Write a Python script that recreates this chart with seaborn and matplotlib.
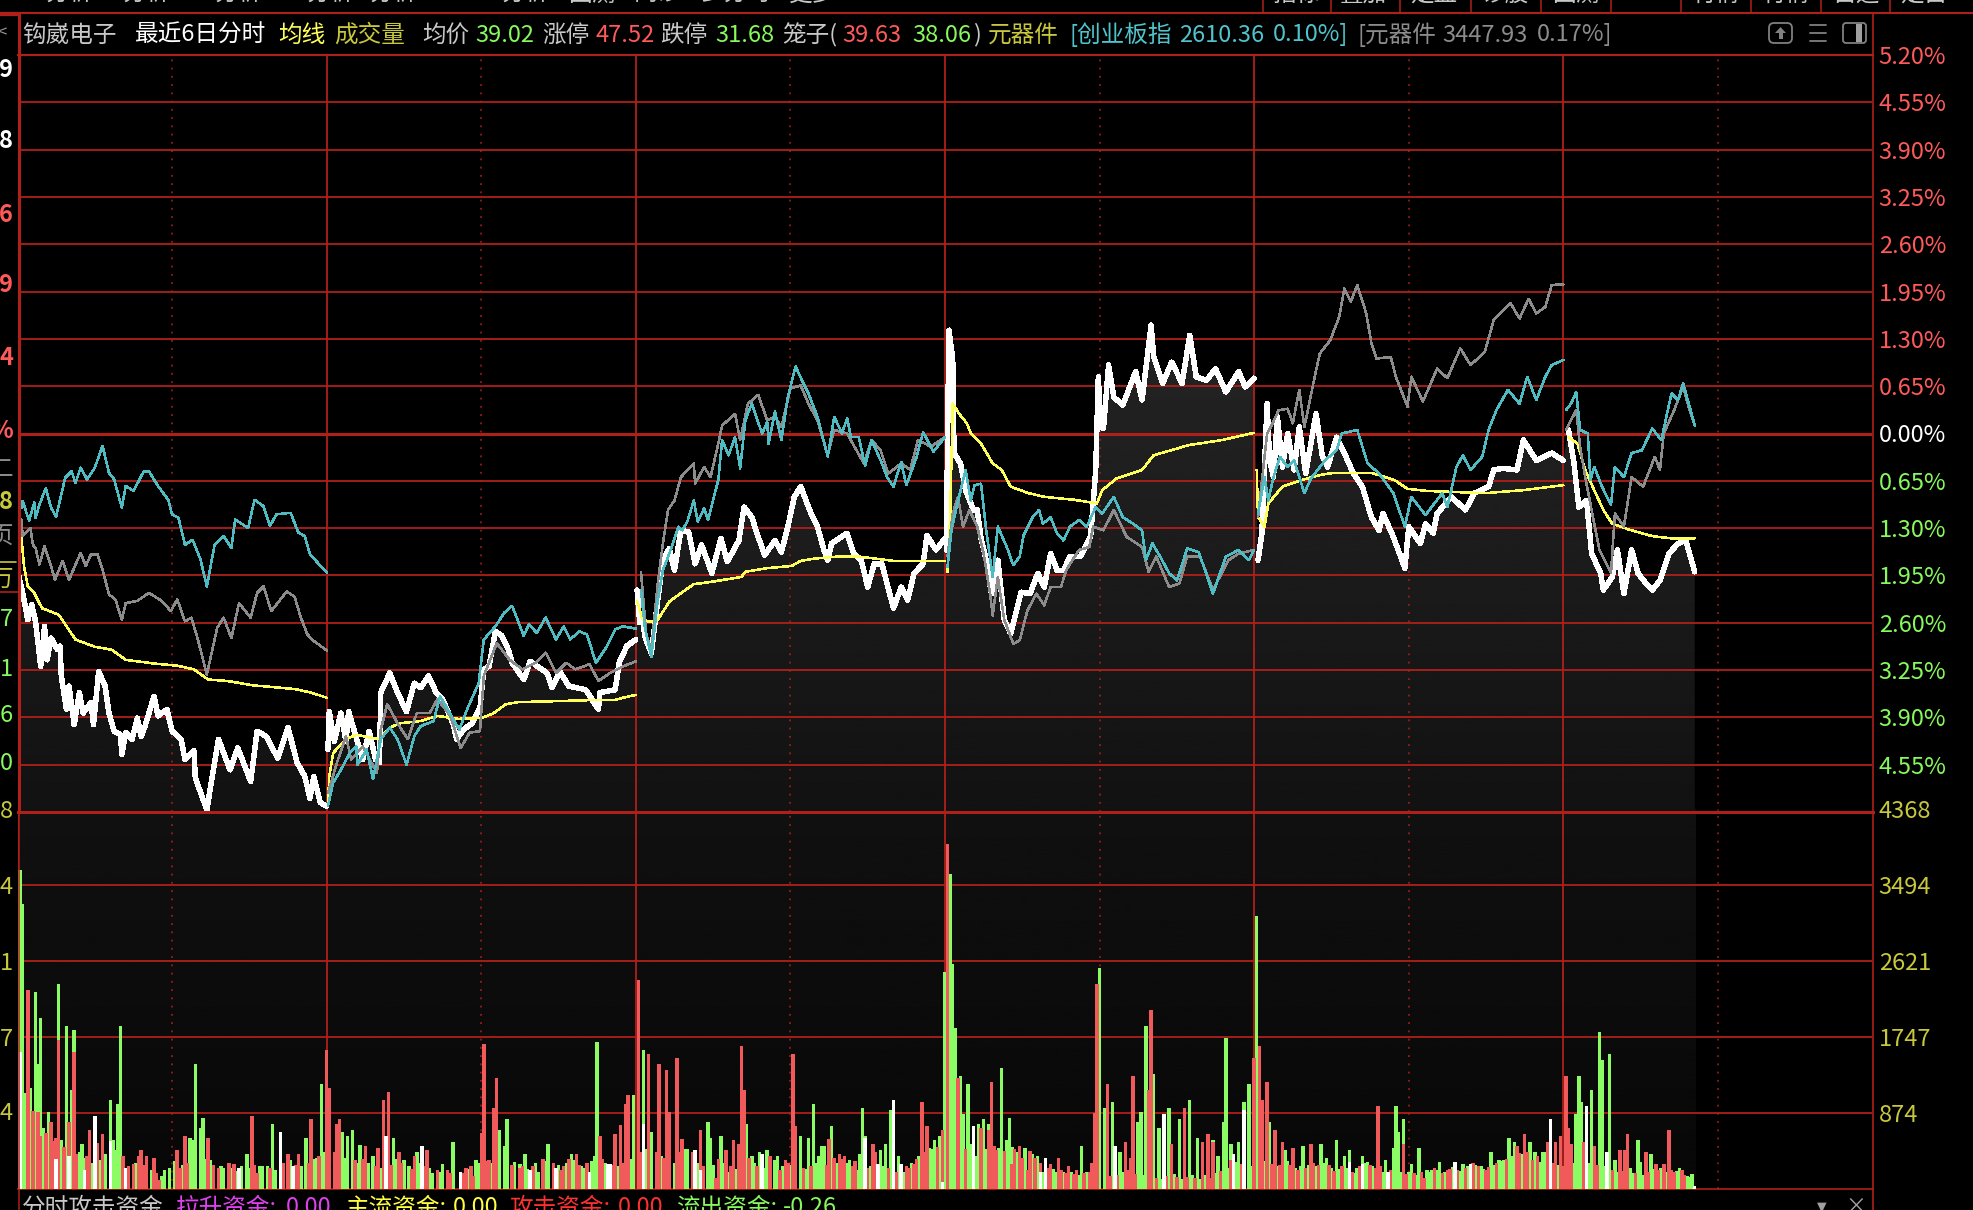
import numpy as np
import pandas as pd
import seaborn as sns
import matplotlib.pyplot as plt
from matplotlib.patches import FancyBboxPatch, Rectangle, Polygon

# minute index over the six sessions (240 minutes per session), values in percent
white_min = [1,4,8,11,14,18,21,23,26,31,33,34,38,40,44,48,51,57,59,63,68,71,75,80,81,84,89,93,96,99,106,109,116,120,127,130,137,138,147,152,156,165,171,181,186,193,202,210,217,223,227,230,235,240,
             241,242,246,251,255,257,263,268,273,278,281,282,289,295,302,308,313,319,325,330,338,341,346,353,359,362,366,371,376,381,384,393,398,411,415,421,428,441,451,452,464,467,473,480,
             481,483,485,487,492,497,501,506,510,515,521,526,531,539,546,551,560,564,570,575,580,588,593,598,603,608,616,621,626,629,632,644,649,655,660,665,671,680,686,691,696,703,706,713,720,
             721,723,726,727,732,736,742,745,748,752,756,761,766,771,779,786,792,797,802,807,812,817,825,833,837,839,841,843,847,851,858,868,873,880,882,889,896,904,910,915,923,930,938,948,953,960,
             963,966,970,972,975,978,982,986,991,995,1000,1008,1013,1017,1024,1029,1037,1044,1051,1057,1060,1068,1077,1080,1089,1093,1099,1102,1113,1124,1131,1142,1146,1153,1164,1169,1179,1191,1200,
             1204,1208,1212,1218,1222,1229,1231,1238,1242,1247,1253,1258,1265,1269,1275,1282,1289,1295,1298,1302]
white_pct = [-1.96,-2.19,-2.56,-2.35,-2.58,-3.20,-2.65,-3.11,-2.81,-2.97,-2.92,-3.33,-3.79,-3.47,-4.00,-3.56,-3.84,-3.70,-4.00,-3.27,-3.47,-3.84,-4.09,-4.14,-4.41,-4.11,-4.20,-3.91,-4.16,-4.02,-3.61,-3.88,-3.79,-4.09,-4.20,-4.48,-4.36,-4.73,-5.17,-4.62,-4.20,-4.62,-4.32,-4.78,-4.09,-4.16,-4.46,-4.04,-4.52,-4.71,-5.01,-4.71,-5.07,-5.12,
             -4.34,-3.82,-4.23,-3.84,-4.23,-3.82,-4.18,-4.48,-4.09,-4.48,-4.52,-3.56,-3.29,-3.56,-3.82,-3.43,-3.49,-3.33,-3.56,-3.65,-3.98,-4.20,-4.07,-3.98,-3.77,-3.24,-3.20,-2.72,-2.78,-2.97,-3.15,-3.38,-3.13,-3.29,-3.49,-3.27,-3.47,-3.52,-3.79,-3.56,-3.52,-3.15,-2.92,-2.83,
             -2.15,-2.60,-2.47,-2.79,-3.02,-2.29,-1.74,-1.58,-1.88,-1.33,-1.35,-1.79,-1.53,-1.92,-1.44,-1.76,-1.47,-1.01,-1.15,-1.42,-1.67,-1.47,-1.63,-1.28,-0.87,-0.73,-1.10,-1.28,-1.60,-1.74,-1.51,-1.37,-1.65,-1.74,-2.11,-1.79,-1.79,-2.40,-2.11,-2.29,-1.92,-1.79,-1.40,-1.60,-1.44,
             -1.60,1.42,1.03,-0.27,-0.41,-0.78,-1.05,-1.05,-1.44,-1.74,-2.20,-1.74,-2.56,-2.75,-2.18,-2.20,-1.92,-2.11,-1.65,-1.88,-1.88,-1.69,-1.69,-1.42,-0.50,0.78,0.09,0.07,0.94,0.50,0.39,0.85,0.46,1.49,1.05,0.69,0.98,0.69,1.35,0.78,0.73,0.89,0.57,0.85,0.64,0.76,
             -1.74,-1.37,0.41,-0.37,-0.60,0.23,-0.46,0.00,-0.50,0.09,-0.55,0.27,-0.32,-0.46,-0.05,-0.23,-0.55,-0.73,-1.15,-1.33,-1.10,-1.42,-1.85,-1.28,-1.51,-1.24,-1.37,-1.10,-0.87,-1.05,-0.82,-0.73,-0.50,-0.48,-0.50,-0.09,-0.37,-0.27,-0.37,
             0.05,-0.37,-1.01,-0.92,-1.65,-1.92,-2.15,-1.97,-1.60,-2.20,-1.60,-1.92,-2.08,-2.15,-2.02,-1.65,-1.51,-1.47,-1.65,-1.90]

cyan_min = [3,4,9,13,14,17,22,26,30,37,42,45,49,54,60,66,71,75,81,84,90,98,102,109,117,120,125,130,136,142,147,153,160,166,169,179,184,191,196,201,212,218,223,227,240,
            241,245,251,258,263,264,271,276,282,289,295,302,308,313,323,328,334,343,349,358,362,371,378,384,393,397,403,410,418,424,429,436,442,449,457,464,470,480,
            484,487,492,497,501,506,513,516,520,525,528,533,536,544,547,552,557,561,565,570,578,582,583,588,593,598,604,609,614,621,629,634,640,644,647,653,658,663,671,675,680,686,690,698,703,711,720,
            722,725,729,736,740,743,748,752,757,761,768,773,778,781,788,793,796,802,807,812,817,824,830,837,842,851,858,866,873,876,881,887,894,900,908,917,928,938,948,956,960,
            963,968,971,975,980,986,991,999,1004,1015,1024,1028,1040,1048,1057,1068,1077,1082,1093,1106,1110,1117,1122,1128,1137,1142,1148,1157,1166,1172,1179,1186,1191,1200,
            1202,1206,1210,1213,1219,1221,1224,1230,1237,1240,1247,1253,1261,1269,1276,1284,1289,1293,1298,1302]
cyan_pct = [-1.02,-0.93,-1.20,-0.95,-1.16,-0.98,-0.75,-1.02,-1.14,-0.61,-0.52,-0.68,-0.47,-0.63,-0.47,-0.17,-0.54,-0.63,-1.02,-0.72,-0.79,-0.52,-0.52,-0.72,-0.91,-1.11,-1.16,-1.53,-1.46,-1.73,-2.10,-1.53,-1.41,-1.57,-1.18,-1.30,-0.91,-1.00,-1.27,-1.11,-1.09,-1.36,-1.41,-1.66,-1.91,
            -5.12,-4.80,-4.62,-4.39,-4.30,-4.55,-4.34,-4.75,-4.20,-4.04,-4.20,-4.55,-4.16,-4.02,-3.95,-3.61,-3.79,-4.07,-3.79,-3.43,-2.83,-2.65,-2.46,-2.37,-2.78,-2.62,-2.74,-2.53,-2.83,-2.65,-2.83,-2.72,-2.76,-3.15,-2.94,-2.69,-2.65,-2.68,
            -2.15,-2.66,-3.07,-2.29,-1.88,-1.65,-1.28,-1.33,-1.21,-0.92,-1.21,-1.03,-1.19,-0.64,-0.09,-0.30,-0.05,-0.48,0.18,0.41,0.00,0.16,-0.14,0.30,-0.09,0.50,0.92,0.73,0.55,0.23,-0.32,0.23,0.00,0.21,-0.05,-0.05,-0.44,-0.09,-0.41,-0.60,-0.73,-0.39,-0.71,-0.32,0.02,-0.25,-0.05,
            -1.83,-1.33,-1.01,-0.50,-0.92,-0.71,-0.69,-1.33,-1.97,-1.28,-1.56,-1.81,-1.69,-1.40,-1.15,-1.05,-1.24,-1.15,-1.37,-1.47,-1.28,-1.19,-1.28,-1.01,-1.10,-0.87,-1.15,-1.24,-1.33,-1.74,-1.51,-1.69,-1.92,-2.02,-1.58,-1.63,-2.20,-1.69,-1.60,-1.74,-1.60,
            -1.10,-0.60,-0.92,-0.60,-0.32,-0.46,-0.37,-0.82,-0.62,-0.37,-0.23,0.00,0.05,-0.41,-0.55,-0.82,-1.28,-0.87,-1.12,-0.82,-1.01,-0.46,-0.30,-0.50,-0.32,0.05,0.32,0.60,0.41,0.78,0.46,0.78,0.94,1.01,
            0.32,0.41,0.57,0.05,0.00,-0.64,-0.46,-0.73,-0.98,-0.46,-0.60,-0.27,-0.23,0.07,-0.09,0.55,0.46,0.69,0.37,0.11]

gray_min = [3,4,10,12,14,17,21,26,29,35,40,49,53,57,62,66,71,76,81,84,93,102,112,119,124,130,135,140,147,155,160,166,172,181,186,191,197,209,215,220,225,230,240,
            241,248,255,259,268,279,282,287,295,303,310,320,326,336,344,351,359,362,372,382,392,402,410,418,426,433,444,451,460,470,480,
            484,488,492,497,501,505,510,515,525,526,533,538,544,547,557,561,567,575,582,588,593,600,608,614,621,629,634,644,657,663,670,676,686,693,699,709,720,
            722,726,730,734,739,745,750,755,757,761,766,773,778,784,791,797,802,810,814,824,832,835,843,851,861,873,878,884,894,902,908,918,928,940,948,960,
            963,970,973,979,986,990,995,999,1007,1011,1019,1026,1030,1035,1040,1047,1051,1055,1066,1070,1079,1082,1091,1102,1110,1120,1128,1139,1146,1159,1166,1173,1179,1186,1191,1200,
            1202,1210,1213,1217,1224,1228,1237,1240,1247,1253,1262,1271,1275,1278,1286,1293,1298,1302]
gray_pct = [-1.18,-1.41,-1.30,-1.53,-1.57,-1.80,-1.55,-1.82,-2.01,-1.75,-2.01,-1.64,-1.82,-1.66,-1.66,-1.87,-2.21,-2.28,-2.56,-2.33,-2.30,-2.19,-2.30,-2.44,-2.28,-2.58,-2.53,-2.83,-3.31,-2.67,-2.53,-2.81,-2.33,-2.53,-2.19,-2.10,-2.44,-2.17,-2.24,-2.53,-2.76,-2.85,-2.98,
            -4.94,-4.52,-4.16,-4.48,-4.30,-4.66,-4.07,-3.72,-3.98,-4.20,-3.84,-3.84,-3.65,-3.88,-4.32,-4.11,-4.09,-3.33,-2.88,-3.11,-3.24,-3.15,-3.01,-3.29,-3.15,-3.24,-3.17,-3.40,-3.29,-3.20,-3.13,
            -1.90,-2.75,-2.98,-2.06,-1.51,-1.05,-0.92,-0.60,-0.41,-0.69,-0.46,-0.60,-0.14,0.11,0.27,-0.09,0.41,0.53,0.18,0.23,0.09,0.62,0.66,0.41,0.18,-0.30,0.05,0.00,-0.41,-0.09,-0.23,-0.55,-0.41,-0.50,-0.09,-0.18,-0.05,
            -1.69,-1.10,-0.87,-1.28,-1.05,-1.28,-1.65,-2.20,-2.50,-1.97,-2.56,-2.89,-2.84,-2.43,-2.20,-2.36,-2.11,-2.11,-1.88,-1.60,-1.56,-1.28,-1.33,-1.05,-1.42,-1.56,-1.90,-1.69,-2.11,-2.06,-1.69,-1.69,-2.15,-1.74,-1.65,-1.60,
            -1.15,0.00,0.09,0.32,0.34,0.14,0.60,0.09,0.78,1.10,1.28,1.60,1.99,1.81,2.04,1.65,1.24,1.03,1.05,0.78,0.37,0.78,0.44,0.89,0.76,1.17,0.94,1.12,1.56,1.79,1.58,1.85,1.65,1.74,2.04,2.05,
            0.05,0.32,-0.18,-0.60,-1.24,-1.60,-1.92,-1.10,-1.28,-0.60,-0.73,-0.32,-0.50,0.00,0.32,0.64,0.32,0.11]

avg_min = [3,5,8,13,19,32,45,60,73,84,106,124,137,148,163,183,215,228,240,
           241,242,245,255,263,281,289,297,313,326,342,360,369,379,389,412,451,464,470,480,
           481,485,490,497,506,516,525,538,562,565,582,601,608,618,637,653,680,720,
           722,724,726,731,737,740,748,757,764,771,785,797,820,838,842,853,873,882,909,935,960,
           962,963,968,971,982,997,1011,1022,1051,1069,1079,1095,1110,1139,1168,1200,
           1204,1211,1217,1224,1231,1238,1251,1269,1284,1302]
avg_pct = [-1.41,-1.82,-2.10,-2.19,-2.40,-2.49,-2.83,-2.93,-2.97,-3.11,-3.16,-3.19,-3.24,-3.38,-3.40,-3.46,-3.51,-3.56,-3.63,
           -5.12,-4.71,-4.39,-4.20,-4.14,-4.20,-4.04,-3.98,-3.95,-3.88,-3.92,-3.91,-3.85,-3.72,-3.69,-3.68,-3.66,-3.66,-3.63,-3.59,
           -2.30,-2.55,-2.59,-2.56,-2.31,-2.18,-2.07,-2.04,-1.97,-1.90,-1.85,-1.82,-1.75,-1.72,-1.69,-1.69,-1.75,-1.75,
           -1.90,-1.15,0.41,0.27,0.14,0.00,-0.14,-0.41,-0.50,-0.73,-0.82,-0.87,-0.91,-0.96,-0.78,-0.62,-0.50,-0.30,-0.16,-0.09,0.01,
           -0.50,-1.15,-1.28,-0.96,-0.73,-0.64,-0.57,-0.54,-0.54,-0.64,-0.76,-0.79,-0.80,-0.82,-0.78,-0.71,
           -0.05,-0.14,-0.50,-0.78,-1.05,-1.24,-1.32,-1.41,-1.44,-1.44]

# volume bars, one list pair per colour
green_min = [2,4,10,14,16,18,24,28,32,38,42,44,50,52,68,72,74,76,78,80,114,118,122,134,136,138,142,144,150,160,166,174,178,190,194,198,224,232,236,242,252,256,260,266,276,292,300,310,322,330,338,356,374,378,380,386,394,404,412,430,440,448,450,478,486,492,520,
             536,538,546,552,566,570,576,582,588,590,604,608,614,618,622,624,626,632,646,654,656,658,670,674,678,684,706,708,712,716,720,724,726,728,732,734,738,744,746,750,754,764,768,770,796,806,826,840,844,850,856,860,870,872,876,882,886,894,902,910,916,928,932,936,938,942,948,952,956,962,972,984,998,1012,1016,1024,
             1030,1034,1040,1044,1048,1062,1068,1070,1072,1076,1082,1088,1096,1098,1104,1122,1136,1144,1150,1154,1158,1162,1174,1182,1184,1210,1212,1214,1222,1228,1230,1236,1240,1254,1258,1260,1268,1276,1290,1296,1300]
green_vol = [3670,3280,1160,2260,1440,1970,890,470,2355,1877,1140,1830,520,360,405,1026,567,450,980,1877,220,240,320,585,567,1440,700,815,337,240,240,260,405,270,260,747,585,360,1210,980,655,610,680,510,385,585,337,430,185,290,540,337,680,490,800,310,405,200,520,405,240,375,1690,1084,1600,655,465,
             770,585,610,200,750,380,425,450,337,380,470,610,585,980,375,500,500,727,337,405,935,605,450,520,910,380,655,470,565,610,2497,3623,2590,1854,1302,865,1210,375,750,800,750,1394,567,820,200,200,500,2543,935,1003,430,500,770,890,1877,1325,700,935,800,1026,590,567,380,775,1740,520,545,1003,1210,3140,770,450,500,520,360,565,
             380,450,240,380,315,337,475,957,660,800,290,475,200,220,315,290,270,430,337,337,590,545,545,315,430,865,1302,1003,1140,1808,1486,1555,337,180,567,315,405,245,245,155,176]
red_min = [8,16,18,26,28,30,32,40,44,46,56,62,66,82,90,94,96,100,106,110,124,130,148,152,156,168,182,186,210,218,228,240,242,248,250,270,280,284,288,296,308,318,334,348,354,360,362,366,370,372,390,422,434,452,464,468,472,474,482,490,498,504,506,512,516,530,
           542,550,556,560,562,564,584,596,602,604,630,634,638,642,650,664,666,692,696,702,706,718,722,730,748,754,756,760,772,780,784,802,808,816,822,834,836,838,846,860,864,866,878,880,896,906,920,924,928,942,960,964,966,970,976,982,990,1004,
           1056,1058,1076,1092,1110,1140,1164,1170,1176,1188,1194,1198,1202,1204,1206,1216,1224,1244,1248,1250,1264,1272,1278,1282,1284,1292]
red_vol = [2290,890,610,770,550,590,1715,770,1580,405,680,530,635,375,290,375,450,380,360,100,450,610,585,280,240,290,843,185,405,405,800,1600,1160,747,800,500,470,1026,1115,420,375,450,220,240,145,640,1670,330,935,1280,240,220,405,610,635,730,980,1076,2405,1555,1440,1370,890,1510,570,680,
           130,450,567,520,1647,1140,380,337,1555,727,580,360,405,380,320,520,420,240,290,1003,728,680,3968,1280,705,680,1233,450,290,360,220,290,360,270,220,300,875,2360,1210,545,360,1302,1140,2060,520,935,545,635,545,337,1510,1647,1026,1233,680,545,475,520,
           957,270,520,130,220,220,500,635,337,545,545,610,1302,705,520,545,500,450,450,635,430,290,290,680,220,220]
pale_min = [2,30,40,52,60,72,84,172,204,214,286,314,344,398,418,444,458,460,486,526,530,578,658,668,680,686,718,742,794,798,852,890,944,952,1034,1044,1064,1116,1128,1190,1218,1234,1302]
pale_vol = [1580,340,380,220,840,550,240,240,660,270,610,500,200,220,240,200,290,290,750,450,220,405,585,290,1026,290,80,727,200,356,500,865,405,910,315,290,200,315,290,800,957,430,38]

# the low crowded bars under the spikes, ten to a row
low_min = [6,12,20,22,34,36,48,54,58,60,
           64,86,92,98,104,108,112,126,128,132,
           146,152,158,164,170,172,180,184,188,196,
           200,206,212,216,220,226,230,234,238,246,
           254,262,264,268,272,278,282,290,294,298,
           304,306,312,316,320,326,328,336,344,346,
           350,352,358,364,368,384,390,392,396,400,
           402,408,410,416,420,424,426,428,432,436,
           438,442,446,454,456,462,466,470,476,484,
           488,496,500,502,510,514,518,524,528,532,
           540,544,548,554,558,568,572,574,580,592,
           594,598,600,610,612,616,620,628,636,640,
           644,648,652,660,662,668,672,676,680,682,
           688,690,694,698,700,704,710,714,718,722,
           730,736,740,742,752,758,762,766,772,774,
           776,778,782,786,788,790,792,794,798,800,
           804,810,812,814,818,820,824,828,830,832,
           834,848,852,854,858,862,866,868,874,884,
           888,892,898,900,904,908,912,914,918,920,
           922,926,930,934,940,944,946,950,958,966,
           968,974,978,980,986,988,992,994,996,1000,
           1002,1006,1008,1010,1014,1018,1020,1022,1026,1028,
           1032,1036,1038,1042,1046,1050,1052,1054,1060,1066,
           1074,1078,1080,1084,1086,1090,1094,1100,1102,1106,
           1108,1112,1114,1118,1120,1124,1126,1130,1132,1134,
           1138,1142,1146,1148,1152,1156,1160,1166,1168,1172,
           1178,1180,1186,1192,1196,1200,1208,1218,1220,1226,
           1232,1238,1242,1246,1252,1256,1262,1266,1270,1274,
           1280,1286,1288,1294,1298]
low_vol = [1100,900,700,640,560,480,420,380,300,280,
           330,260,300,280,220,180,150,240,280,300,
           340,220,260,300,210,190,240,280,260,240,
           220,300,330,280,260,300,340,380,420,420,
           360,330,300,340,300,260,240,280,340,300,
           260,230,300,260,240,220,190,180,160,180,
           230,260,300,320,300,280,290,260,230,260,
           300,340,320,300,280,260,300,340,330,280,
           260,300,320,340,300,280,260,300,340,420,
           460,430,380,360,300,420,460,420,300,260,
           280,340,300,260,230,360,300,260,240,220,
           260,300,280,240,230,260,300,280,300,340,
           300,260,220,240,260,220,260,240,220,200,
           200,260,300,340,380,430,460,480,460,420,
           440,460,520,480,460,500,470,440,480,460,
           420,500,470,440,400,360,380,300,260,240,
           230,220,200,180,200,170,160,180,190,200,
           170,150,140,160,200,220,200,170,160,130,
           120,150,170,140,120,140,160,130,120,140,
           160,130,180,210,240,300,310,290,260,300,
           320,290,260,280,320,280,240,220,260,240,
           280,300,260,280,300,280,240,210,230,260,
           240,200,180,260,300,280,260,240,200,220,
           190,170,190,180,160,190,220,240,220,180,
           200,230,250,220,210,240,260,300,280,260,
           230,250,280,300,320,340,380,410,400,430,
           430,380,420,300,280,260,300,340,300,280,
           260,220,200,210,240,180,160,200,230,220,
           190,200,210,160,140]

pct_ticks = [5.20,4.55,3.90,3.25,2.60,1.95,1.30,0.65,0.00,-0.65,-1.30,-1.95,-2.60,-3.25,-3.90,-4.55]
vol_ticks = [874,1747,2621,3494,4368]

grid_red = '#b0201a'
up_red = '#f05a5a'
down_green = '#8cfc64'
olive = '#c8c83c'
txt_red = '#ff5a5a'
txt_green = '#86fa5c'

W, H = 1974, 1210
LEFT, RIGHT = 17.5, 1872.5


def box(top, bottom):
    return [LEFT / W, 1 - bottom / H, (RIGHT - LEFT) / W, (bottom - top) / H]


def series_frame(minutes, values):
    df = pd.DataFrame({'minute': minutes, 'value': values})
    df['day'] = (df['minute'] - 1) // 240
    return df


sns.set_style('dark', {'axes.facecolor': 'none', 'figure.facecolor': 'black'})
plt.rcParams['font.family'] = ['Noto Sans CJK SC', 'DejaVu Sans']

fig = plt.figure(figsize=(W / 100, H / 100), dpi=100, facecolor='black')
ax_vol = fig.add_axes(box(809, 1189), zorder=1)
ax = fig.add_axes(box(55, 812), zorder=2)
ax_top = fig.add_axes([0, 0, 1, 1], zorder=3)

# price panel
white = series_frame(white_min, white_pct)
shade = ax.fill_between(white['minute'], white['value'], -5.2, color='none', linewidth=0)
grad = ax.imshow(np.linspace(0.145, 0.07, 200).reshape(-1, 1), extent=(0, 1302, -5.2, 1.6), origin='upper',
                 cmap='gray', vmin=0, vmax=1, aspect='auto', zorder=0)
grad.set_clip_path(shade.get_paths()[0], transform=ax.transData)

line_styles = [(white, '#ffffff', 3.2), (series_frame(avg_min, avg_pct), '#ffff5a', 1.1),
               (series_frame(gray_min, gray_pct), '#8c8c8c', 1.1), (series_frame(cyan_min, cyan_pct), '#4fbcc4', 1.1)]
for frame, colour, width in line_styles:
    sns.lineplot(data=frame, x='minute', y='value', units='day', estimator=None, sort=False,
                 color=colour, linewidth=width, antialiased=False, ax=ax)

ax.set_xlim(0, 1440)
ax.set_ylim(-5.2, 5.2)
ax.set_xlabel('')
ax.set_ylabel('')
ax.yaxis.tick_right()
ax.set_yticks(pct_ticks)
ax.set_yticklabels(['%.2f%%' % abs(v) for v in pct_ticks], fontsize=17)
for v, lab in zip(pct_ticks, ax.get_yticklabels()):
    lab.set_color(txt_red if v > 0 else ('#ffffff' if v == 0 else txt_green))
ax.axhline(0, color=grid_red, lw=2.2, zorder=1)

# volume panel
bars = pd.concat([pd.DataFrame({'minute': low_min[::2], 'vol': low_vol[::2], 'kind': 'low_green'}),
                  pd.DataFrame({'minute': green_min, 'vol': green_vol, 'kind': 'green'}),
                  pd.DataFrame({'minute': low_min[1::2], 'vol': low_vol[1::2], 'kind': 'low_red'}),
                  pd.DataFrame({'minute': red_min, 'vol': red_vol, 'kind': 'red'}),
                  pd.DataFrame({'minute': pale_min, 'vol': pale_vol, 'kind': 'white'})], ignore_index=True)
ax_vol.imshow(np.linspace(0.065, 0.03, 200).reshape(-1, 1), extent=(0, 1302, 0, 4368), origin='upper',
              cmap='gray', vmin=0, vmax=1, aspect='auto', zorder=0)
sns.barplot(data=bars, x='minute', y='vol', hue='kind', hue_order=['low_green', 'green', 'low_red', 'red', 'white'],
            palette={'low_green': down_green, 'green': down_green, 'low_red': up_red, 'red': up_red, 'white': '#ffffff'},
            native_scale=True, dodge=False, width=1.35, saturation=1, linewidth=0, legend=False, errorbar=None,
            antialiased=False, zorder=3, ax=ax_vol)
ax_vol.set_xlim(0, 1440)
ax_vol.set_ylim(0, 4368)
ax_vol.set_xlabel('')
ax_vol.set_ylabel('')
ax_vol.yaxis.tick_right()
ax_vol.set_yticks(vol_ticks)
ax_vol.set_yticklabels([str(v) for v in vol_ticks], fontsize=17, color=olive)

for a in (ax, ax_vol):
    a.set_axisbelow(True)
    a.set_xticks(np.arange(0, 1441, 240))
    a.set_xticks(np.arange(120, 1440, 240), minor=True)
    a.tick_params(axis='both', which='both', length=0, pad=4.5)
    a.tick_params(axis='x', which='both', labelbottom=False)
    a.grid(which='major', axis='both', color=grid_red, lw=1.3)
    a.grid(which='minor', axis='x', color=grid_red, lw=1.1, ls=(0, (1.2, 4.2)))
    for s in a.spines.values():
        s.set_visible(False)
ax_vol.yaxis.get_gridlines()[-1].set_visible(False)
ax.spines['top'].set_visible(True)
ax.spines['top'].set_color(grid_red)
ax.spines['top'].set_linewidth(1.5)
ax.spines['bottom'].set_visible(True)
ax.spines['bottom'].set_color(grid_red)
ax.spines['bottom'].set_linewidth(2.2)
ax_vol.spines['bottom'].set_visible(True)
ax_vol.spines['bottom'].set_color(grid_red)
ax_vol.spines['bottom'].set_linewidth(1.2)

# window furniture, in pixel coordinates
ax_top.set_xlim(0, W)
ax_top.set_ylim(H, 0)
ax_top.axis('off')
ax_top.patch.set_alpha(0)

ax_top.plot([0, W], [13, 13], color=grid_red, lw=1.5)
ax_top.plot([0, 18], [14, 14], color=grid_red, lw=3)
ax_top.plot([18.5, 18.5], [13, 812], color=grid_red, lw=2.2)
ax_top.plot([18.5, 18.5], [812, H], color=grid_red, lw=1.1)
ax_top.plot([RIGHT, RIGHT], [13, H], color=grid_red, lw=1.2)
ax_top.plot([0, 18], [592, 592], color=grid_red, lw=1.2)
ax_top.plot([0, 16], [562, 562], color=olive, lw=1.2)
for x in [1263, 1331, 1400, 1471, 1541, 1611, 1681, 1751, 1821, 1890]:
    ax_top.plot([x, x], [0, 13], color=grid_red, lw=1.1)

header = [(22, '钩崴电子', '#c8c8c8'), (135, '最近6日分时', '#ffffff'), (278, '均线', '#ffff5a'), (334, '成交量', olive),
          (422, '均价', '#c8c8c8'), (475, '39.02', txt_green), (542, '涨停', '#c8c8c8'), (596, '47.52', txt_red),
          (660, '跌停', '#c8c8c8'), (715, '31.68', txt_green), (782, '笼子(', '#c8c8c8'), (842, '39.63', txt_red),
          (912, '38.06', txt_green), (973, ')', '#c8c8c8'), (988, '元器件', olive), (1069, '[创业板指', '#50c4cc'),
          (1179, '2610.36', '#50c4cc'), (1273, '0.10%]', '#50c4cc'), (1357, '[元器件', '#8c8c8c'),
          (1442, '3447.93', '#8c8c8c'), (1537, '0.17%]', '#8c8c8c')]
for x, s, c in header:
    ax_top.text(x, 35, s, color=c, fontsize=17, va='center', ha='left')

footer = [(22, '分时攻击资金', '#c8c8c8'), (176, '拉升资金:', '#e040f0'), (286, '0.00', '#e040f0'),
          (346, '主流资金:', '#ffff40'), (453, '0.00', '#ffff40'), (509, '攻击资金:', '#ff3030'), (618, '0.00', '#ff3030'),
          (676, '流出资金:', txt_green), (783, '-0.26', txt_green)]
for x, s, c in footer:
    ax_top.text(x, 1208, s, color=c, fontsize=17, va='center', ha='left')

top_menu = [(46, '分析'), (123, '分析'), (215, '分析'), (307, '分析'), (370, '分析'), (502, '分析'), (568, '回测'),
            (634, '问诊'), (700, '多分时'), (789, '更多'), (1272, '指标'), (1340, '叠加'), (1410, '定盘'), (1482, '诊股'),
            (1552, '回测'), (1692, '行情'), (1762, '行情'), (1832, '自选'), (1900, '定自')]
for x, s in top_menu:
    ax_top.text(x, -6, s, color='#c8c8c8', fontsize=17, va='center', ha='left')

left_labels = [(70, '9', '#ffffff', 'bold'), (141, '8', '#ffffff', 'bold'), (215, '6', txt_red, 'bold'), (285, '9', txt_red, 'bold'),
               (358, '4', txt_red, 'bold'), (431, '%', txt_red, 'bold'), (470, '二', '#8c8c8c', 'normal'), (502, '8', olive, 'bold'),
               (537, '页', '#8c8c8c', 'normal'), (579, '万', olive, 'normal'), (619, '7', txt_green, 'normal'), (669, '1', txt_green, 'normal'),
               (715, '6', txt_green, 'normal'), (763, '0', txt_green, 'normal'), (812, '8', olive, 'normal'), (887, '4', olive, 'normal'),
               (963, '1', olive, 'normal'), (1039, '7', olive, 'normal'), (1114, '4', olive, 'normal')]
for y, s, c, wt in left_labels:
    ax_top.text(13, y, s, color=c, fontsize=17, fontweight=wt, va='center', ha='right')
ax_top.text(7, 33, '<', color='#9a9a9a', fontsize=12, va='center', ha='right')

# toolbar icons
icon = '#808080'
ax_top.add_patch(FancyBboxPatch((1772, 26), 17, 14, boxstyle='round,pad=3,rounding_size=5', fc='none', ec=icon, lw=1.3))
ax_top.add_patch(Polygon([(1780.5, 27), (1775, 33), (1786, 33)], fc=icon, ec='none'))
ax_top.add_patch(Rectangle((1778.5, 33), 4, 6, fc=icon, ec='none'))
for y in [25, 32.5, 41]:
    ax_top.plot([1810, 1826], [y, y], color=icon, lw=1.3)
ax_top.add_patch(FancyBboxPatch((1846, 26), 17, 14, boxstyle='round,pad=3,rounding_size=3', fc='none', ec=icon, lw=1.3))
ax_top.add_patch(Rectangle((1856, 24), 6, 18, fc='#a0a0a0', ec='none'))
ax_top.text(1822, 1207, '▼', color='#a0a0a0', fontsize=9, va='center', ha='center', family=['DejaVu Sans'])
ax_top.text(1856, 1206, '×', color='#a0a0a0', fontsize=15, va='center', ha='center')
ax_top.set_xlim(0, W)
ax_top.set_ylim(H, 0)

fig.savefig('out.png', dpi=100, facecolor='black')
